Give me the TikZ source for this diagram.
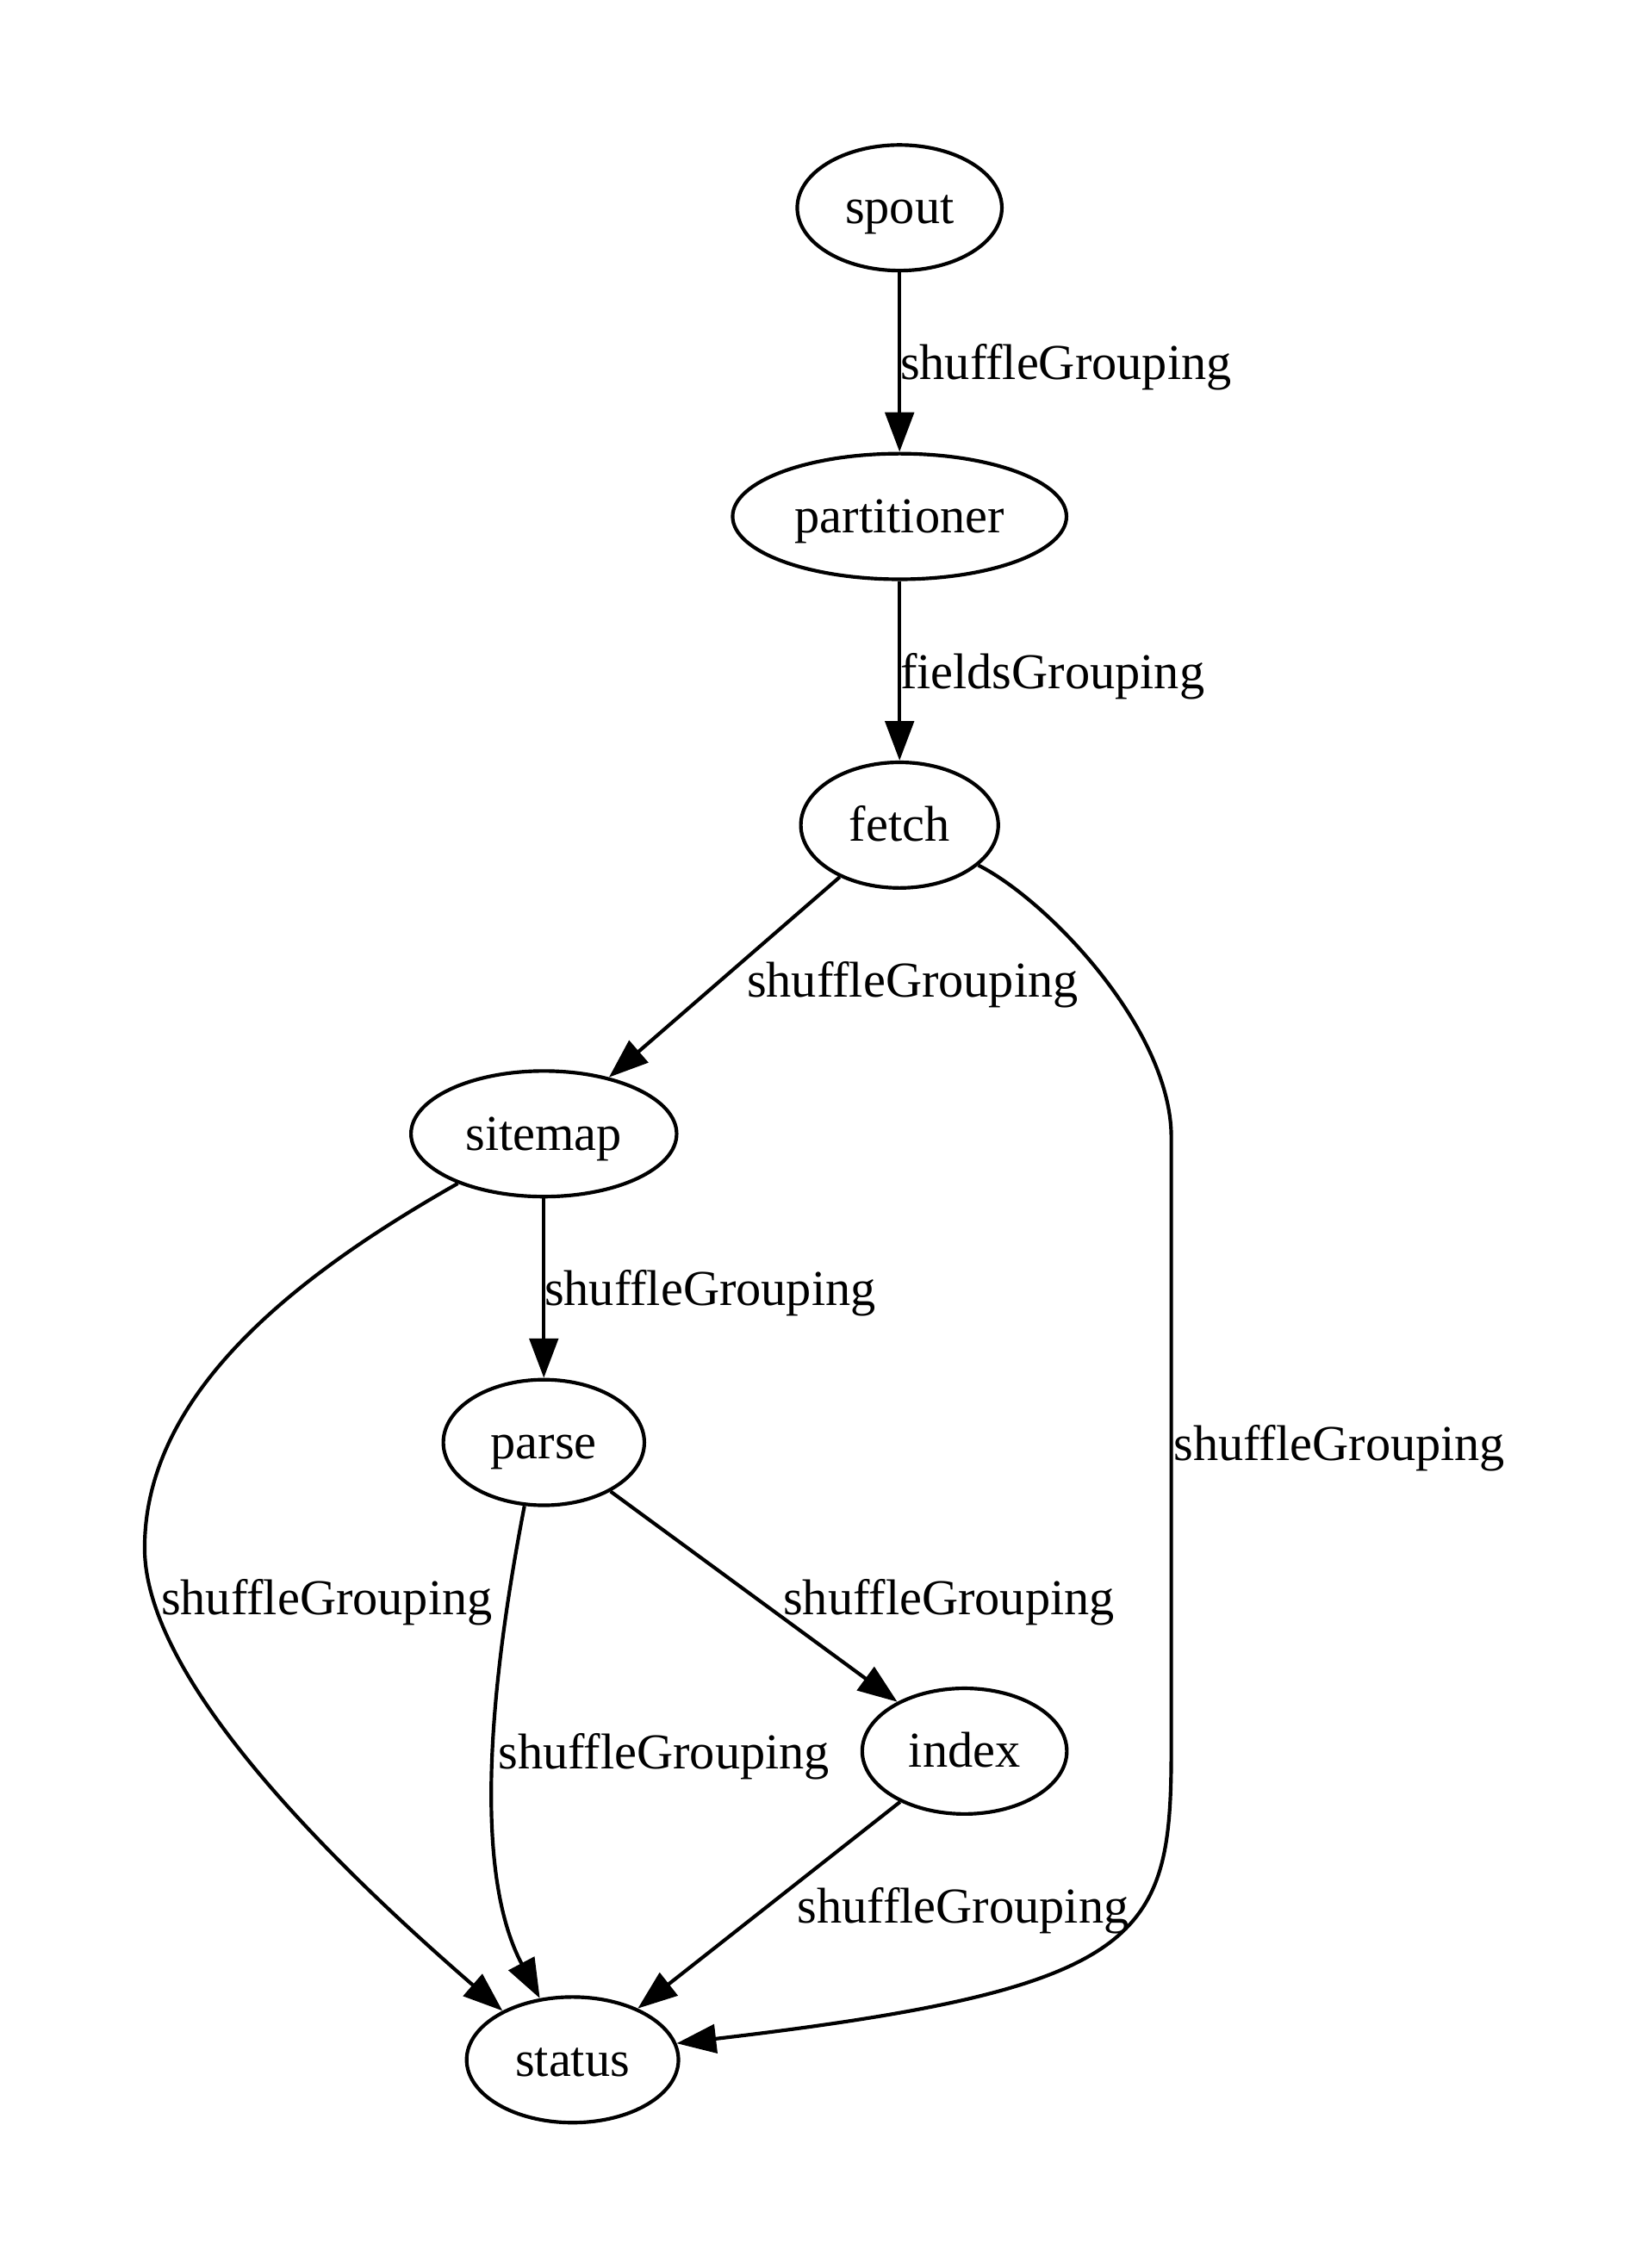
\documentclass[tikz,border=0pt]{standalone}
\usepackage{fontspec}
\setmainfont{Liberation Serif}
\usetikzlibrary{shapes.geometric,arrows.meta}

\begin{document}
\begin{tikzpicture}
  [x=1pt,y=1pt,font=\fontsize{14pt}{17pt}\selectfont,
   bolt/.style={ellipse,draw,line width=1pt,inner sep=0pt,minimum height=35pt,
     text height=12pt,text depth=3pt},
   grouping/.style={anchor=west,inner sep=0pt},
   stream/.style={line width=1pt,-{Triangle[length=11pt,width=8pt]}}]
  \useasboundingbox (0,0) rectangle (458.9,631.9);

  \node (spout) at (250.6,574) [bolt,minimum width=57pt] {spout};
  \node (partitioner) at (250.6,488) [bolt,minimum width=93pt] {partitioner};
  \node (fetch) at (250.6,402) [bolt,minimum width=55pt] {fetch};
  \node (sitemap) at (151.5,316) [bolt,minimum width=74pt] {sitemap};
  \node (parse) at (151.5,230) [bolt,minimum width=56pt] {parse};
  \node (index) at (268.7,144) [bolt,minimum width=57pt] {index};
  \node (status) at (159.5,58) [bolt,minimum width=59pt] {status};

  \draw [stream] (spout) to (partitioner);
  \draw [stream] (partitioner) to (fetch);
  \draw [stream] (fetch) to (sitemap);
  \draw [stream] (sitemap) to (parse);
  \draw [stream] (parse) to (index);
  \draw [stream] (index) to (status);
  \draw [stream] (sitemap.210) .. controls (85,278) and (40.3,245) .. (40.3,200.6)
    .. controls (40.3,165) and (90,115) .. (status.145);
  \draw [stream] (parse.253) .. controls (136,160) and (132,110) .. (status.118);
  \draw [stream] (fetch.-27) .. controls (292,381) and (326.3,345) .. (326.3,315)
    -- (326.3,145) .. controls (326.3,92) and (320,78) .. (status.9);

  \node (g1) at (250.6,529.5) [grouping] {shuffleGrouping};
  \node (g2) at (250.6,443.5) [grouping] {fieldsGrouping};
  \node (g3) at (207.9,357.5) [grouping] {shuffleGrouping};
  \node (g4) at (151.5,271.5) [grouping] {shuffleGrouping};
  \node (g5) at (326.8,228.5) [grouping] {shuffleGrouping};
  \node (g6) at (44.7,185.5) [grouping] {shuffleGrouping};
  \node (g7) at (218.0,185.5) [grouping] {shuffleGrouping};
  \node (g8) at (138.6,142.5) [grouping] {shuffleGrouping};
  \node (g9) at (222.0,99.5) [grouping] {shuffleGrouping};
\end{tikzpicture}
\end{document}
